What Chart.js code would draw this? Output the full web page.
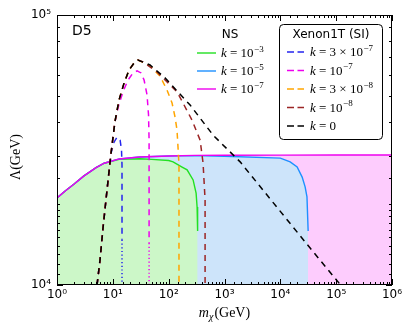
<!DOCTYPE html>
<html><head><meta charset="utf-8">
<script src="https://cdn.jsdelivr.net/npm/chart.js@4/dist/chart.umd.min.js"></script>
<style>html,body{margin:0;padding:0;background:#fff}#wrap{width:402px;height:322px}</style>
</head><body><div id="wrap"><canvas id="c" width="402" height="322"></canvas></div>
<script>
// ---- NS curves (solid, filled) ----
const nsGreenM = [1, 1.4, 2, 3, 5, 7, 13, 30, 50, 100, 120, 174, 214, 274, 310, 323, 330];
const nsGreenL = [21000, 22300, 23600, 25300, 27200, 28250, 29200, 29350, 29200, 28900, 28600, 27350, 26700, 24500, 21900, 19450, 15850];
const nsBlueM = [1, 1.4, 2, 3, 5, 7, 13, 30, 100, 300, 1000, 10000, 15000, 20000, 24600, 27800, 30000, 31500];
const nsBlueL = [21000, 22300, 23600, 25300, 27200, 28250, 29300, 29800, 30050, 30150, 30000, 29500, 28580, 27350, 25100, 23100, 21200, 15850];
const nsPinkM = [1, 1.4, 2, 3, 5, 7, 13, 30, 100, 300, 1000, 10000, 100000, 1000000];
const nsPinkL = [21000, 22300, 23600, 25300, 27200, 28250, 29300, 29800, 30050, 30200, 30250, 30280, 30300, 30300];
// ---- Xenon1T (SI) curves (dashed) ----
const xeBlackM = [5.21, 5.9, 6.67, 7.87, 9.29, 10.9, 12.9, 15.9, 19.5, 24.0, 28.3, 46.4, 86, 242, 625, 1905, 6560, 34200, 120000];
const xeBlackL = [10000, 12380, 16260, 22490, 30800, 40200, 48400, 56000, 62500, 66400, 68100, 65300, 58500, 46400, 35900, 28580, 20850, 13700, 10000];
const xeRedM = [5.21, 5.9, 6.67, 7.87, 9.29, 10.9, 12.9, 15.9, 19.5, 24.0, 28.3, 34.8, 62, 142, 262, 366, 413, 449, 449];
const xeRedL = [10000, 12380, 16260, 22490, 30800, 40200, 48400, 56000, 62500, 66400, 68100, 67000, 61500, 51900, 40800, 34400, 28300, 20700, 10000];
const xeOrangeM = [5.21, 5.9, 6.67, 7.87, 9.29, 10.9, 12.9, 15.9, 19.5, 24.0, 28.3, 46.4, 70, 93.5, 115, 130, 141, 147, 153, 153];
const xeOrangeL = [10000, 12380, 16260, 22490, 30800, 40200, 48400, 56000, 62500, 66400, 68100, 64800, 59400, 52700, 47200, 41900, 37500, 32400, 27800, 10000];
const xeMagM = [5.21, 5.9, 6.67, 7.87, 9.29, 10.9, 12.9, 15.2, 18.7, 23, 27.2, 32, 36.3, 41, 43.6, 44.6, 44.6, 44.6];
const xeMagL = [10000, 12380, 16260, 22490, 30800, 40200, 46800, 51900, 57400, 61000, 62100, 61000, 57400, 50600, 42600, 34400, 14300, 10000];
const xeBlueM = [5.21, 5.9, 6.67, 7.87, 9.29, 10.5, 11.9, 13.5, 14.3, 14.6, 14.6, 14.6];
const xeBlueL = [10000, 12380, 16260, 22490, 30800, 33800, 35300, 34400, 31600, 27800, 14700, 10000];
// ---- labels ----
const nsLabels = ['k=10^-3', 'k=10^-5', 'k=10^-7'];
const xeLabels = ['k=3×10^-7', 'k=10^-7', 'k=3×10^-8', 'k=10^-8', 'k=0'];
const xTickPowers = [0, 1, 2, 3, 4, 5, 6];
const yTickPowers = [4, 5];

const xy = (xs, ys) => xs.map((x, i) => ({x: x, y: ys[i]}));
const supMap = {'0':'⁰','1':'¹','2':'²','3':'³','4':'⁴','5':'⁵','6':'⁶','7':'⁷','8':'⁸','9':'⁹','-':'⁻'};
const isPow10 = v => Math.abs(Math.log10(v) - Math.round(Math.log10(v))) < 1e-9;
const powLabel = v => '10' + String(Math.round(Math.log10(v))).split('').map(c => supMap[c]).join('');

const nsColors = ['#22e022', '#1e90ff', '#ee00ee'];
const nsFills = ['rgb(204,247,200)', 'rgb(205,228,250)', 'rgb(253,204,253)'];
const xeColors = ['#2525ee', '#ee00ee', '#ffa500', '#9b2525', '#000000'];
const DASH = [6, 5];

function lastDotted(n) {
  return { borderDash: ctx => (ctx.p1DataIndex === n - 1 ? [1.2, 2.5] : undefined) };
}

const datasets = [
  // fills
  {data: xy(nsPinkM, nsPinkL), fill: 'start', backgroundColor: nsFills[2], borderWidth: 0, pointRadius: 0, order: 100},
  {data: xy(nsBlueM, nsBlueL), fill: 'start', backgroundColor: nsFills[1], borderWidth: 0, pointRadius: 0, order: 99},
  {data: xy(nsGreenM, nsGreenL), fill: 'start', backgroundColor: nsFills[0], borderWidth: 0, pointRadius: 0, order: 98},
  // NS lines
  {label: nsLabels[0], data: xy(nsGreenM, nsGreenL), borderColor: nsColors[0], borderWidth: 1.4, pointRadius: 0, fill: false, order: 20},
  {label: nsLabels[1], data: xy(nsBlueM, nsBlueL), borderColor: nsColors[1], borderWidth: 1.4, pointRadius: 0, fill: false, order: 19},
  {label: nsLabels[2], data: xy(nsPinkM, nsPinkL), borderColor: nsColors[2], borderWidth: 1.4, pointRadius: 0, fill: false, order: 18},
  // Xenon dashed (black drawn last, on top)
  {label: xeLabels[0], data: xy(xeBlueM, xeBlueL), borderColor: xeColors[0], borderWidth: 1.5, borderDash: DASH, pointRadius: 0, fill: false, order: 10, segment: lastDotted(xeBlueM.length)},
  {label: xeLabels[1], data: xy(xeMagM, xeMagL), borderColor: xeColors[1], borderWidth: 1.5, borderDash: DASH, pointRadius: 0, fill: false, order: 9, segment: lastDotted(xeMagM.length)},
  {label: xeLabels[2], data: xy(xeOrangeM, xeOrangeL), borderColor: xeColors[2], borderWidth: 1.5, borderDash: DASH, pointRadius: 0, fill: false, order: 8},
  {label: xeLabels[3], data: xy(xeRedM, xeRedL), borderColor: xeColors[3], borderWidth: 1.5, borderDash: DASH, pointRadius: 0, fill: false, order: 7},
  {label: xeLabels[4], data: xy(xeBlackM, xeBlackL), borderColor: xeColors[4], borderWidth: 1.5, borderDash: DASH, pointRadius: 0, fill: false, order: 6}
];

const SERIF = '"Liberation Serif", "DejaVu Serif", serif';
const SANS = '"DejaVu Sans", sans-serif';

function drawK(ctx, x, y, label) {
  const rhs = label.split('=')[1];
  let cx = x;
  ctx.textBaseline = 'alphabetic';
  ctx.textAlign = 'left';
  ctx.font = 'italic 13px ' + SERIF;
  ctx.fillText('k', cx, y); cx += ctx.measureText('k').width;
  ctx.font = '13px ' + SERIF;
  const parts = rhs.split('^');
  const base = ' = ' + parts[0].replace('×', ' × ');
  ctx.fillText(base, cx, y); cx += ctx.measureText(base).width;
  if (parts[1]) {
    ctx.font = '9px ' + SERIF;
    ctx.fillText(parts[1].replace('-', '−'), cx + 0.5, y - 5.5);
  }
}

const decor = {
  id: 'decor',
  afterDatasetsDraw(chart) {
    const ctx = chart.ctx;
    const a = chart.chartArea;
    const xs = chart.scales.x, ys = chart.scales.y;
    ctx.save();
    // frame
    ctx.strokeStyle = '#000';
    ctx.lineWidth = 1;
    ctx.strokeRect(a.left + 0.5, a.top + 0.5, a.right - a.left - 1, a.bottom - a.top - 1);
    // ticks inside on all sides
    ctx.beginPath();
    xs.ticks.forEach(t => {
      const px = Math.round(xs.getPixelForValue(t.value)) + 0.5;
      const len = isPow10(t.value) ? 6 : 3;
      ctx.moveTo(px, a.bottom); ctx.lineTo(px, a.bottom - len);
      ctx.moveTo(px, a.top); ctx.lineTo(px, a.top + len);
    });
    ys.ticks.forEach(t => {
      const py = Math.round(ys.getPixelForValue(t.value)) + 0.5;
      const len = isPow10(t.value) ? 6 : 3;
      ctx.moveTo(a.left, py); ctx.lineTo(a.left + len, py);
      ctx.moveTo(a.right, py); ctx.lineTo(a.right - len, py);
    });
    ctx.stroke();
    ctx.fillStyle = '#000';
    // D5
    ctx.font = '14px ' + SANS;
    ctx.textAlign = 'left'; ctx.textBaseline = 'middle';
    ctx.fillText('D5', 72, 31);
    // NS legend
    ctx.font = '12px ' + SANS;
    ctx.textAlign = 'center';
    ctx.fillText('NS', 230, 35);
    const nsY = [53, 71, 89];
    nsLabels.forEach((lab, i) => {
      ctx.strokeStyle = nsColors[i]; ctx.lineWidth = 1.4; ctx.setLineDash([]);
      ctx.beginPath(); ctx.moveTo(197, nsY[i]); ctx.lineTo(216, nsY[i]); ctx.stroke();
      ctx.fillStyle = '#000';
      drawK(ctx, 221, nsY[i] + 4, lab);
    });
    // Xenon legend box
    ctx.setLineDash([]);
    ctx.fillStyle = '#fff';
    ctx.strokeStyle = '#000'; ctx.lineWidth = 1;
    ctx.beginPath();
    ctx.roundRect(279.5, 24.5, 103, 115, 4);
    ctx.fill(); ctx.stroke();
    ctx.fillStyle = '#000';
    ctx.font = '12px ' + SANS;
    ctx.textAlign = 'center'; ctx.textBaseline = 'middle';
    ctx.fillText('Xenon1T (SI)', 331, 35);
    const xeY = [52, 70.5, 89, 107.5, 126];
    xeLabels.forEach((lab, i) => {
      ctx.strokeStyle = xeColors[i]; ctx.lineWidth = 1.5; ctx.setLineDash([7, 3.5]);
      ctx.beginPath(); ctx.moveTo(287, xeY[i]); ctx.lineTo(304, xeY[i]); ctx.stroke();
      ctx.setLineDash([]);
      ctx.fillStyle = '#000';
      drawK(ctx, 310, xeY[i] + 4, lab);
    });
    // x title
    ctx.fillStyle = '#000';
    ctx.textBaseline = 'alphabetic'; ctx.textAlign = 'left';
    ctx.font = 'italic 14px ' + SERIF;
    const mW = ctx.measureText('m').width;
    ctx.font = 'italic 10px ' + SERIF;
    const cW = ctx.measureText('χ').width;
    ctx.font = '14px ' + SERIF;
    const gW = ctx.measureText('(GeV)').width;
    let tx = (a.left + a.right) / 2 - (mW + cW + 1 + gW) / 2;
    const ty = 317;
    ctx.font = 'italic 14px ' + SERIF; ctx.fillText('m', tx, ty); tx += mW;
    ctx.font = 'italic 10px ' + SERIF; ctx.fillText('χ', tx, ty + 3); tx += cW + 1;
    ctx.font = '14px ' + SERIF; ctx.fillText('(GeV)', tx, ty);
    // y title
    ctx.save();
    ctx.translate(20, 157);
    ctx.rotate(-Math.PI / 2);
    ctx.textAlign = 'center'; ctx.textBaseline = 'alphabetic';
    ctx.font = '14px ' + SERIF;
    ctx.fillText('Λ(GeV)', 0, 0);
    ctx.restore();
    ctx.restore();
  }
};

new Chart(document.getElementById('c'), {
  type: 'line',
  data: {datasets: datasets},
  options: {
    responsive: false,
    animation: false,
    devicePixelRatio: 1,
    layout: {padding: {left: 0, right: 10, top: 15, bottom: 0}},
    plugins: {legend: {display: false}, tooltip: {enabled: false}},
    elements: {line: {tension: 0}},
    scales: {
      x: {
        type: 'logarithmic', min: 1, max: 1e6,
        grid: {display: false, drawTicks: false},
        border: {display: false},
        ticks: {
          autoSkip: false, maxRotation: 0, minRotation: 0, padding: 3, color: '#000',
          font: {family: 'DejaVu Sans', size: 12},
          callback: v => (isPow10(v) && xTickPowers.includes(Math.round(Math.log10(v)))) ? powLabel(v) : ''
        },
        afterFit(s) { s.height = 37; s.paddingLeft = 0; s.paddingRight = 0; }
      },
      y: {
        type: 'logarithmic', min: 1e4, max: 1e5,
        grid: {display: false, drawTicks: false},
        border: {display: false},
        ticks: {
          autoSkip: false, padding: 6, color: '#000',
          font: {family: 'DejaVu Sans', size: 12},
          callback: v => (isPow10(v) && yTickPowers.includes(Math.round(Math.log10(v)))) ? powLabel(v) : ''
        },
        afterFit(s) { s.width = 57; s.paddingTop = 0; s.paddingBottom = 0; }
      }
    }
  },
  plugins: [decor]
});
</script>
</body></html>
